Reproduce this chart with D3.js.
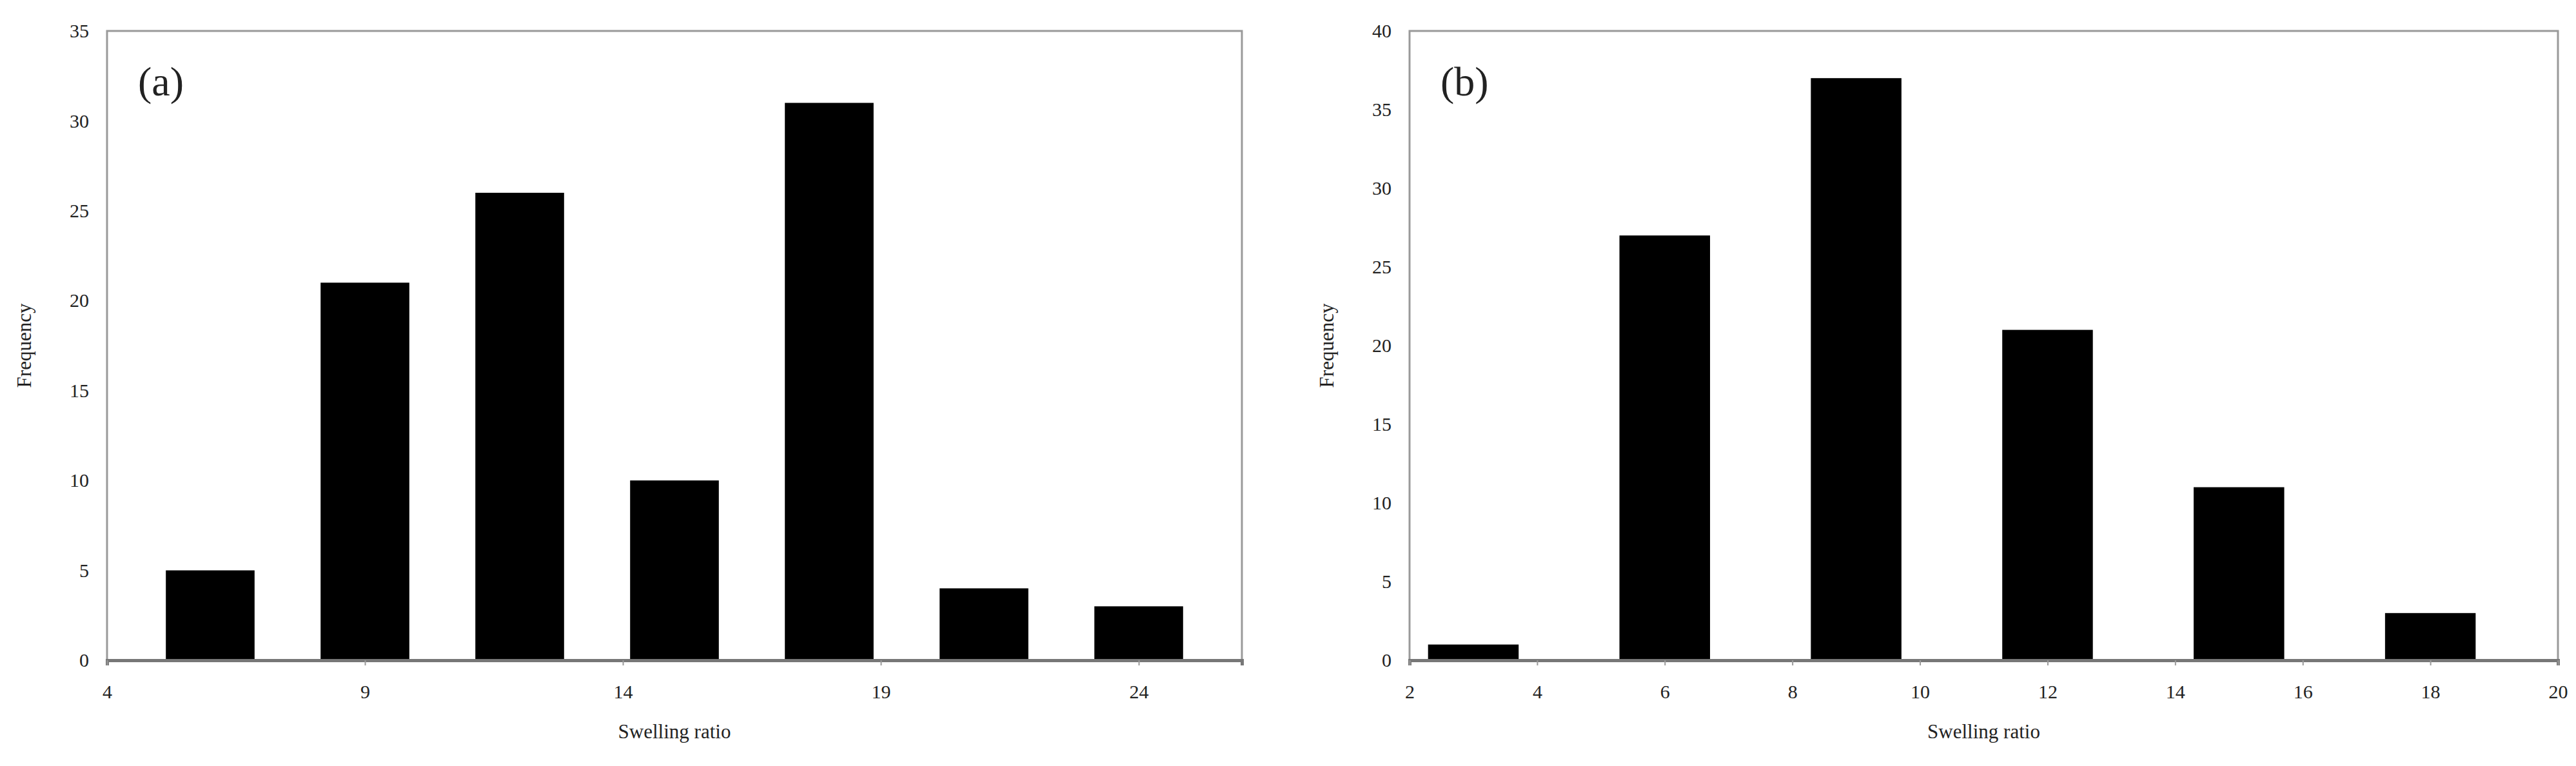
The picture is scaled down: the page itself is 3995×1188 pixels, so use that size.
<!DOCTYPE html>
<html><head><meta charset="utf-8">
<script src="https://cdn.jsdelivr.net/npm/d3@7"></script>
<style>body{margin:0;background:#fff}text{font-family:"Liberation Serif","Times New Roman",serif;fill:#222}</style>
</head><body>
<svg id="c" width="3995" height="1188"></svg>
<script>
const binsA = [6, 9, 12, 15, 18, 21, 24];
const freqA = [5, 21, 26, 10, 31, 4, 3];
const ticksXA = [4, 9, 14, 19, 24];
const binsB = [3, 6, 9, 12, 15, 18];
const freqB = [1, 27, 37, 21, 11, 3];
const ticksXB = [2, 4, 6, 8, 10, 12, 14, 16, 18, 20];
const ticksYA = [0, 5, 10, 15, 20, 25, 30, 35];
const ticksYB = [0, 5, 10, 15, 20, 25, 30, 35, 40];

const svg = d3.select("#c");
function panel(o) {
  const g = svg.append("g");
  const x = d3.scaleLinear().domain(o.xd).range([o.l, o.r]);
  const y = d3.scaleLinear().domain([0, o.ymax]).range([o.b, o.t]);
  g.append("rect").attr("x", o.l).attr("y", o.t).attr("width", o.r - o.l).attr("height", o.b - o.t)
    .attr("fill", "none").attr("stroke", "#9a9a9a").attr("stroke-width", 3);
  g.selectAll(".bar").data(o.bins).join("rect")
    .attr("x", (d) => x(d - o.bw / 2)).attr("width", (d) => x(d + o.bw / 2) - x(d - o.bw / 2))
    .attr("y", (d, i) => y(o.vals[i])).attr("height", (d, i) => y(0) - y(o.vals[i]))
    .attr("fill", "#000");
  const ya = g.append("g").attr("transform", `translate(${o.l},0)`)
    .call(d3.axisLeft(y).tickValues(o.yt).tickSize(0).tickPadding(28));
  ya.select(".domain").remove();
  ya.selectAll("text").attr("font-size", 30).attr("font-family", "Liberation Serif").attr("fill", "#222");
  const xa = g.append("g").attr("transform", `translate(0,${o.b})`)
    .call(d3.axisBottom(x).tickValues(o.xt).tickSize(8).tickPadding(30));
  xa.select(".domain").attr("stroke", "#777").attr("stroke-width", 5);
  xa.selectAll("line").attr("stroke", "#999").attr("stroke-width", 2);
  xa.selectAll("text").attr("font-size", 30).attr("font-family", "Liberation Serif").attr("fill", "#222");
  g.append("text").attr("x", (o.l + o.r) / 2).attr("y", 1145).attr("text-anchor", "middle")
    .attr("font-size", 31).text("Swelling ratio");
  g.append("text").attr("transform", `translate(${o.l - 118},${(o.t + o.b) / 2}) rotate(-90)`)
    .attr("text-anchor", "middle").attr("font-size", 31).text("Frequency");
  g.append("text").attr("x", o.l + 48).attr("y", o.t + 100).attr("font-size", 64).attr("fill", "#111").text(o.label);
}
panel({l: 166, r: 1926, t: 48, b: 1024, xd: [4, 26], ymax: 35, bins: binsA, vals: freqA, bw: 1.72, xt: ticksXA, yt: ticksYA, label: "(a)"});
panel({l: 2186, r: 3967, t: 48, b: 1024, xd: [2, 20], ymax: 40, bins: binsB, vals: freqB, bw: 1.42, xt: ticksXB, yt: ticksYB, label: "(b)"});
</script>
</body></html>
